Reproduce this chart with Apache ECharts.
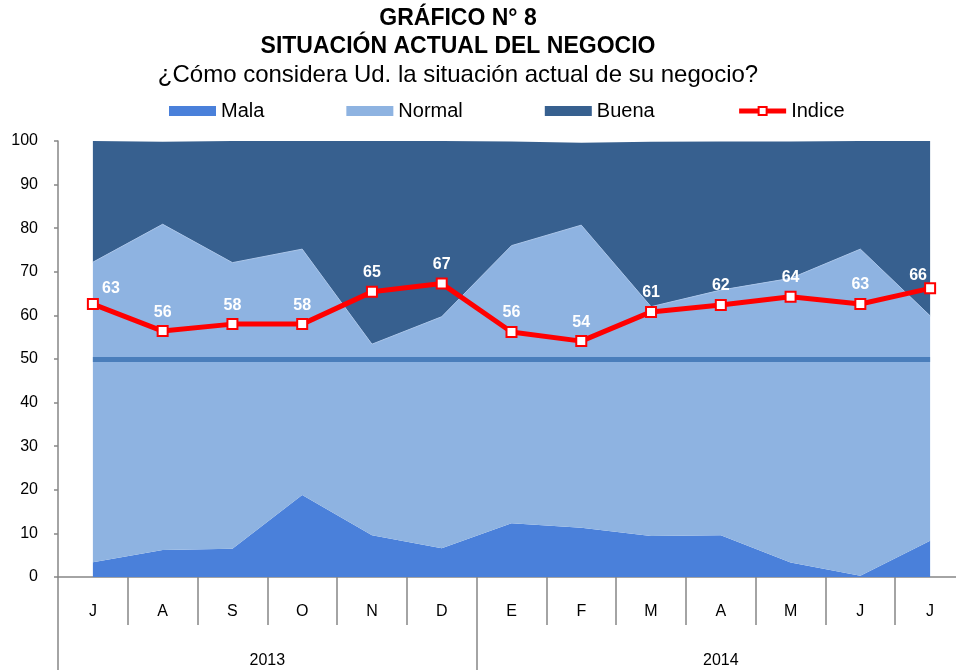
<!DOCTYPE html>
<html>
<head>
<meta charset="utf-8">
<script src="https://cdn.jsdelivr.net/npm/echarts@6/dist/echarts.min.js"></script>
<style>
  html, body { margin: 0; padding: 0; background: #fff; }
  #chart { width: 956px; height: 670px; }
</style>
</head>
<body>
<div id="chart"></div>
<script>
// meses jul 2013 - jul 2014
var months = ['J', 'A', 'S', 'O', 'N', 'D', 'E', 'F', 'M', 'A', 'M', 'J', 'J'];
var years = ['2013', '2014'];
var yearMonths = [6, 7];

var mala = [3.4, 6.2, 6.5, 18.8, 9.6, 6.6, 12.3, 11.3, 9.4, 9.6, 3.3, 0.3, 8.3];
var normal = [68.8, 74.7, 65.6, 56.4, 43.8, 53.1, 63.7, 69.4, 52.6, 56.2, 65.2, 74.9, 51.6];
var buena = [27.8, 18.9, 27.9, 24.8, 46.6, 40.3, 23.9, 18.9, 37.8, 34.1, 31.4, 24.8, 40.1];
var indice = [62.6, 56.4, 58, 58, 65.4, 67.3, 56.2, 54.1, 60.8, 62.4, 64.3, 62.6, 66.2];
var refLevel = 50;

var font = 'Liberation Sans, Arial, sans-serif';

// limites y centros de los grupos de años
var yearBounds = [], yearCenters = [], acc = 0;
yearMonths.forEach(function (n) {
  yearBounds.push(acc);
  yearCenters.push(acc + n / 2);
  acc += n;
});

var chart = echarts.init(document.getElementById('chart'), null, { renderer: 'canvas' });

var indiceData = indice.map(function (v, i) {
  var item = { value: v };
  if (i === 0) item.label = { offset: [18, 4] };
  if (i === indice.length - 1) item.label = { offset: [-12, 6] };
  return item;
});

var option = {
  backgroundColor: '#fff',
  animation: false,
  textStyle: { fontFamily: font },
  title: [
    { text: 'GRÁFICO N° 8', left: 458, top: 7, padding: 0, textAlign: 'center',
      textStyle: { fontFamily: font, fontSize: 23, fontWeight: 'bold', color: '#000' } },
    { text: 'SITUACIÓN ACTUAL DEL NEGOCIO', left: 458, top: 35, padding: 0, textAlign: 'center',
      textStyle: { fontFamily: font, fontSize: 23, fontWeight: 'bold', color: '#000' } },
    { text: '¿Cómo considera Ud. la situación actual de su negocio?', left: 458, top: 63, padding: 0, textAlign: 'center',
      textStyle: { fontFamily: font, fontSize: 24, fontWeight: 'normal', color: '#000' } }
  ],
  legend: {
    left: 169,
    top: 101,
    padding: 0,
    itemWidth: 47,
    itemHeight: 10,
    itemGap: 82,
    textStyle: { fontFamily: font, fontSize: 20, color: '#000' },
    data: [
      { name: 'Mala', icon: 'rect' },
      { name: 'Normal', icon: 'rect' },
      { name: 'Buena', icon: 'rect' },
      { name: 'Indice', lineStyle: { width: 5, color: '#ff0000' } }
    ]
  },
  grid: { left: 58, width: 907, top: 141, bottom: 93, containLabel: false, outerBoundsMode: 'none' },
  xAxis: [
    {
      type: 'category',
      data: months,
      position: 'bottom',
      boundaryGap: true,
      axisLine: { lineStyle: { color: '#868686', width: 1.5 } },
      axisTick: { show: true, interval: 0, length: 48, lineStyle: { color: '#868686', width: 1.5 } },
      axisLabel: { interval: 0, margin: 27, fontFamily: font, fontSize: 16, color: '#000' }
    },
    {
      type: 'value',
      min: 0,
      max: months.length,
      position: 'bottom',
      axisLine: { show: false },
      splitLine: { show: false },
      axisTick: { show: true, customValues: yearBounds, length: 95, lineStyle: { color: '#868686', width: 1.5 } },
      axisLabel: {
        customValues: yearCenters,
        margin: 76,
        fontFamily: font, fontSize: 16, color: '#000',
        formatter: function (v) {
          var i = yearCenters.indexOf(v);
          return i >= 0 ? years[i] : '';
        }
      }
    }
  ],
  yAxis: {
    type: 'value',
    min: 0,
    max: 100,
    interval: 10,
    axisLine: { show: true, lineStyle: { color: '#868686', width: 1.5 } },
    axisTick: { show: true, length: 4, lineStyle: { color: '#868686', width: 1.5 } },
    splitLine: { show: false },
    axisLabel: { margin: 20, fontFamily: font, fontSize: 16, color: '#000' }
  },
  series: [
    {
      name: 'Mala',
      type: 'line',
      stack: 'total',
      data: mala,
      symbol: 'none',
      lineStyle: { width: 0 },
      itemStyle: { color: '#4a80da' },
      areaStyle: { color: '#4a80da', opacity: 1 }
    },
    {
      name: 'Normal',
      type: 'line',
      stack: 'total',
      data: normal,
      symbol: 'none',
      lineStyle: { width: 1, color: '#a9c5ea' },
      itemStyle: { color: '#8eb3e1' },
      areaStyle: { color: '#8eb3e1', opacity: 1 }
    },
    {
      name: 'Buena',
      type: 'line',
      stack: 'total',
      data: buena,
      symbol: 'none',
      lineStyle: { width: 0 },
      itemStyle: { color: '#37608f' },
      areaStyle: { color: '#37608f', opacity: 1 },
      markLine: {
        silent: true,
        symbol: 'none',
        label: { show: false },
        lineStyle: { color: '#4a7ebb', width: 5, type: 'solid' },
        data: [[{ coord: [0, refLevel] }, { coord: [months.length - 1, refLevel] }]]
      }
    },
    {
      name: 'Indice',
      type: 'line',
      data: indiceData,
      z: 5,
      symbol: 'rect',
      symbolSize: 10,
      showAllSymbol: true,
      lineStyle: { color: '#ff0000', width: 5 },
      itemStyle: { color: '#fff', borderColor: '#ff0000', borderWidth: 2 },
      label: {
        show: true,
        position: 'top',
        distance: 5,
        fontFamily: font,
        fontSize: 16,
        fontWeight: 'bold',
        color: '#fff',
        formatter: function (p) { return Math.round(p.value); }
      }
    }
  ]
};

chart.setOption(option);
</script>
</body>
</html>
